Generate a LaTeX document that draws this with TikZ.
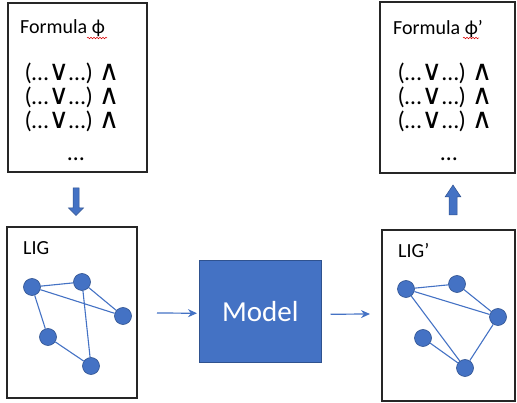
\documentclass[tikz,border=0pt]{standalone}
\usepackage{fontspec}
\setmainfont{Carlito}
\newfontfamily\symfam{DejaVu Sans}
\newcommand\myor{{\symfam\fontsize{28}{28}\selectfont ∨}}
\newcommand\myand{{\symfam\fontsize{28}{28}\selectfont ∧}}
\newcommand\clause{(…\myor…)\hspace{6pt}\myand}
\usetikzlibrary{arrows.meta,decorations.pathmorphing}
\definecolor{blu}{HTML}{4472C4}
\definecolor{bluedge}{HTML}{2F528F}
\begin{document}
\begin{tikzpicture}[x=1pt,y=-1pt,
  frame/.style={draw=black!85, line width=1.2pt, inner sep=0pt, outer sep=0pt, anchor=north west},
  vert/.style={circle, fill=blu, draw=bluedge, line width=0.6pt, minimum size=17pt, inner sep=0pt},
  gedge/.style={draw=blu, line width=1.1pt},
  flow/.style={draw=blu, line width=1.2pt, -{Stealth[length=9pt,width=8pt]}},
  blockarrow/.style={fill=blu, draw=bluedge, line width=0.5pt},
  title/.style={anchor=base west, inner sep=0pt, font=\fontsize{20}{24}\selectfont},
  cl/.style={anchor=base, inner sep=0pt, font=\fontsize{24}{24}\selectfont},
  glabel/.style={anchor=base west, inner sep=0pt, font=\fontsize{20}{24}\selectfont},
  squig/.style={draw=red!85!black, line width=0.5pt, decorate, decoration={snake, amplitude=0.8pt, segment length=3pt}}
]
\useasboundingbox (0,0) rectangle (517,403);
% frames
\node[frame, minimum width=139pt, minimum height=169pt] (f1) at (8,3) {};
\node[frame, minimum width=135pt, minimum height=171pt] (f2) at (380,2) {};
\node[frame, minimum width=130pt, minimum height=171pt] (g1) at (7,227) {};
\node[frame, minimum width=133pt, minimum height=171pt] (g2) at (382,230) {};
\node[fill=blu, draw=bluedge, line width=0.5pt, minimum width=122pt, minimum height=102pt, inner sep=0pt, anchor=north west,
      text=white, font=\fontsize{29}{34}\selectfont] (model) at (199,260) {Model};

% formula texts
\node[title] (t1) at (20,34) {Formula ϕ};
\draw[squig] (87,38) -- (107,38);
\node[cl] (l11) at (72,81) {\clause};
\node[cl] (l12) at (72,105) {\clause};
\node[cl] (l13) at (72,129) {\clause};
\node[cl] (l14) at (76,161) {…};

\node[title] (t2) at (393,35) {Formula ϕ’};
\draw[squig] (463,38) -- (479,38);
\node[cl] (l21) at (445,81) {\clause};
\node[cl] (l22) at (445,105) {\clause};
\node[cl] (l23) at (445,129) {\clause};
\node[cl] (l24) at (449,161) {…};

% graph labels
\node[glabel] (lg1) at (23,255) {LIG};
\node[glabel] (lg2) at (398,258) {LIG’};

% left graph
\node[vert] (a1) at (32,287) {};
\node[vert] (b1) at (82,282) {};
\node[vert] (c1) at (123,316) {};
\node[vert] (d1) at (48,337) {};
\node[vert] (e1) at (91,366) {};
\draw[gedge] (a1) -- (b1) (a1) -- (c1) (a1) -- (d1) (b1) -- (c1) (b1) -- (e1) (d1) -- (e1);

% right graph
\node[vert] (a2) at (406,289) {};
\node[vert] (b2) at (457,284) {};
\node[vert] (c2) at (498,317) {};
\node[vert] (d2) at (423,338) {};
\node[vert] (e2) at (465,368) {};
\draw[gedge] (a2) -- (b2) (a2) -- (c2) (a2) -- (e2) (b2) -- (c2) (c2) -- (e2) (d2) -- (e2);

% flow arrows
\draw[flow] ([xshift=20pt,yshift=-0.5pt]g1.east) -- ([xshift=-2pt,yshift=-2pt]model.west);
\draw[flow] ([xshift=9pt,yshift=-3pt]model.east) -- ([xshift=-12pt,yshift=1.5pt]g2.west);

% block arrows
\draw[blockarrow] (73,188) -- (79,188) -- (79,208) -- (83.5,208) -- (76,215.5) -- (68.5,208) -- (73,208) -- cycle;
\draw[blockarrow] (449,215) -- (457,215) -- (457,197) -- (461,197) -- (453,185) -- (445,197) -- (449,197) -- cycle;
\end{tikzpicture}
\end{document}
